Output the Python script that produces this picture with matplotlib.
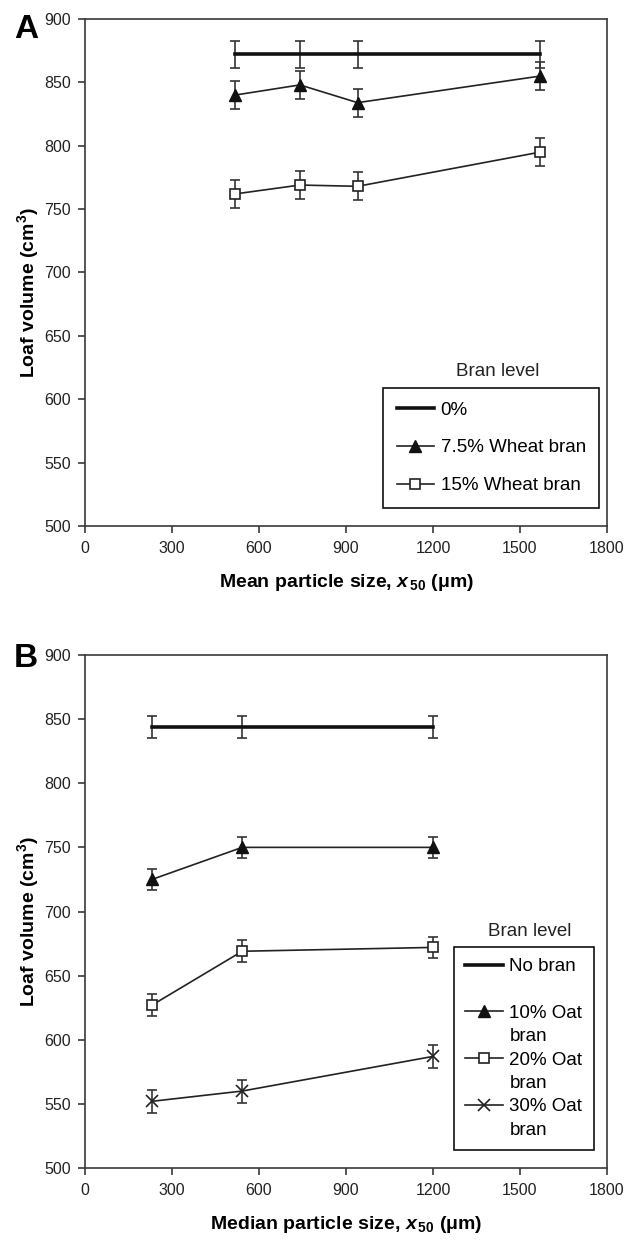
import matplotlib
matplotlib.use("Agg")
import matplotlib.pyplot as plt
from matplotlib.lines import Line2D

# ---------------- data ----------------
# Panel A: wheat bran
xA = [518, 741, 940, 1570]
a_zero = [872, 872, 872, 872]
a_zero_err = [11, 11, 11, 11]
a_wb75 = [840, 848, 834, 855]
a_wb75_err = [11, 11, 11, 11]
a_wb15 = [762, 769, 768, 795]
a_wb15_err = [11, 11, 11, 11]
labelsA = ["0%", "7.5% Wheat bran", "15% Wheat bran"]

# Panel B: oat bran
xB = [231, 542, 1200]
b_none = [844, 844, 844]
b_none_err = [8.5, 8.5, 8.5]
b_ob10 = [725, 750, 750]
b_ob10_err = [8, 8, 8]
b_ob20 = [627, 669, 672]
b_ob20_err = [8.5, 8.5, 8.5]
b_ob30 = [552, 560, 587]
b_ob30_err = [9, 9, 9]
labelsB = ["No bran", "10% Oat", "bran", "20% Oat", "bran", "30% Oat", "bran"]

xticks = [0, 300, 600, 900, 1200, 1500, 1800]
yticks = [500, 550, 600, 650, 700, 750, 800, 850, 900]

# ---------------- style ----------------
plt.rcParams['font.family'] = ['Liberation Sans', 'DejaVu Sans']
plt.rcParams['mathtext.fontset'] = 'custom'
plt.rcParams['mathtext.rm'] = 'Liberation Sans:bold'
plt.rcParams['mathtext.it'] = 'Liberation Sans:italic:bold'
plt.rcParams['mathtext.bf'] = 'Liberation Sans:bold'

W, H = 626, 1241
fig = plt.figure(figsize=(W / 100, H / 100), dpi=100)
fig.patch.set_facecolor('white')

spine_c = '#3a3a3a'
err_c = '#333333'


def fx(px):
    return px / W


def fy(py):
    return 1 - py / H


def setup(ax, xlabel):
    ax.set_xlim(0, 1800)
    ax.set_ylim(500, 900)
    ax.set_xticks(xticks)
    ax.set_yticks(yticks)
    for s in ax.spines.values():
        s.set_color(spine_c)
        s.set_linewidth(1.2)
    ax.tick_params(direction='out', length=5, width=1.2, color=spine_c,
                   labelsize=11.5, labelcolor='#222222')
    ax.tick_params(axis='x', pad=6)
    ax.tick_params(axis='y', pad=5)
    ax.set_xlabel(xlabel, fontsize=14, fontweight='bold', labelpad=11)
    ax.set_ylabel(r'Loaf volume (cm$^{3}$)', fontsize=14, fontweight='bold')


eb_kw = dict(ecolor=err_c, elinewidth=1.2, capsize=3.5, capthick=1.2)

# ---------------- Panel A ----------------
axA = fig.add_axes([fx(85), fy(526), fx(607) - fx(85), fy(19) - fy(526)])
cA0 = axA.errorbar(xA, a_zero, yerr=a_zero_err, color='#111111', lw=2.6, **eb_kw)
cA1 = axA.errorbar(xA, a_wb75, yerr=a_wb75_err, color='#222222', lw=1.2,
                   marker='^', markersize=9, markerfacecolor='#111111',
                   markeredgecolor='#111111', **eb_kw)
cA2 = axA.errorbar(xA, a_wb15, yerr=a_wb15_err, color='#222222', lw=1.2,
                   marker='s', markersize=7.5, markerfacecolor='white',
                   markeredgecolor='#222222', markeredgewidth=1.2, **eb_kw)
setup(axA, r'Mean particle size, $x_{\,50}$ (μm)')
axA.yaxis.set_label_coords(-0.085, 0.46)

legA = axA.legend([cA0.lines[0], cA1.lines[0], cA2.lines[0]], labelsA,
                  loc='upper left', bbox_to_anchor=(fx(383), fy(388)),
                  bbox_transform=fig.transFigure, borderaxespad=0,
                  fontsize=13.5, frameon=True, fancybox=False, framealpha=1,
                  edgecolor='#111111', handlelength=2.0, handletextpad=0.35,
                  labelspacing=1.1, borderpad=0.72)
legA.get_frame().set_linewidth(1.2)
fig.text(fx(498), fy(372), 'Bran level', fontsize=13.5, ha='center', va='center',
         color='#222222')
fig.text(fx(14), fy(14), 'A', fontsize=24, fontweight='bold', ha='left', va='top')

# ---------------- Panel B ----------------
axB = fig.add_axes([fx(85), fy(1168), fx(607) - fx(85), fy(655) - fy(1168)])
cB0 = axB.errorbar(xB, b_none, yerr=b_none_err, color='#111111', lw=2.6, **eb_kw)
cB1 = axB.errorbar(xB, b_ob10, yerr=b_ob10_err, color='#222222', lw=1.2,
                   marker='^', markersize=9, markerfacecolor='#111111',
                   markeredgecolor='#111111', **eb_kw)
cB2 = axB.errorbar(xB, b_ob20, yerr=b_ob20_err, color='#222222', lw=1.2,
                   marker='s', markersize=7.5, markerfacecolor='white',
                   markeredgecolor='#222222', markeredgewidth=1.2, **eb_kw)
cB3 = axB.errorbar(xB, b_ob30, yerr=b_ob30_err, color='#222222', lw=1.2,
                   marker='x', markersize=9, markeredgecolor='#222222',
                   markeredgewidth=1.2, **eb_kw)
setup(axB, r'Median particle size, $x_{\,50}$ (μm)')
axB.yaxis.set_label_coords(-0.085, 0.48)

blank = Line2D([], [], linestyle='none')
handlesB = [cB0.lines[0], blank, cB1.lines[0], blank, cB2.lines[0], blank,
            cB3.lines[0], blank]
labB = [labelsB[0], ' ', labelsB[1], labelsB[2], labelsB[3], labelsB[4],
        labelsB[5], labelsB[6]]
legB = axB.legend(handlesB, labB, loc='upper left',
                  bbox_to_anchor=(fx(454), fy(947)),
                  bbox_transform=fig.transFigure, borderaxespad=0,
                  fontsize=13.5, frameon=True, fancybox=False, framealpha=1,
                  edgecolor='#111111', handlelength=2.0, handletextpad=0.35,
                  labelspacing=0.33, borderpad=0.6)
legB.get_frame().set_linewidth(1.2)
fig.text(fx(530), fy(932), 'Bran level', fontsize=13.5, ha='center', va='center',
         color='#222222')
fig.text(fx(14), fy(643), 'B', fontsize=24, fontweight='bold', ha='left', va='top')

fig.savefig('out.png', dpi=100, facecolor='white')
